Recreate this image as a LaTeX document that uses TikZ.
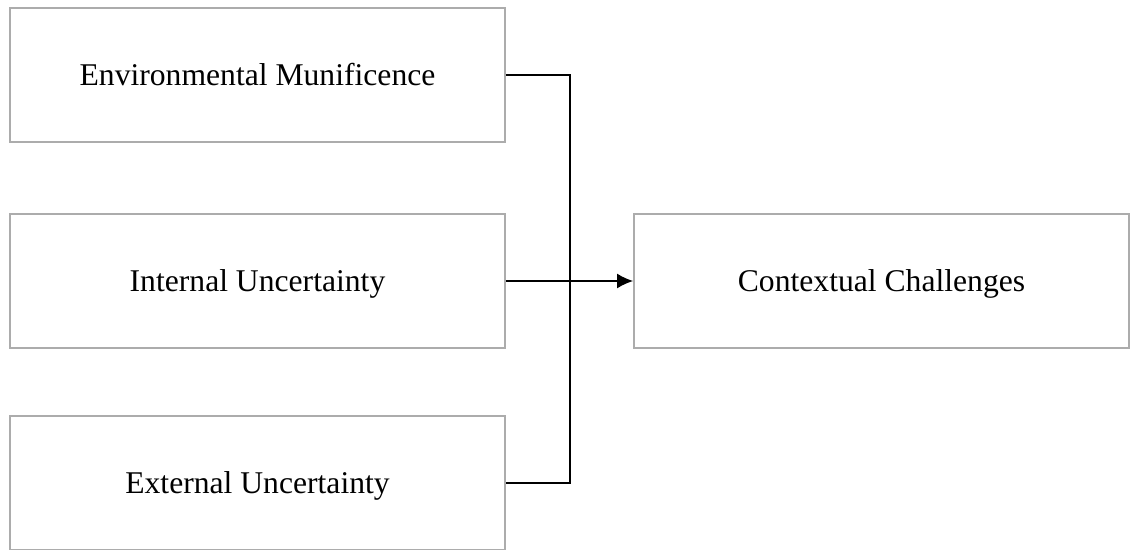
\documentclass[tikz,border=0pt]{standalone}
\usepackage{fontspec}
\setmainfont{Liberation Serif}
\usetikzlibrary{arrows.meta}
\tikzset{
  factor/.style={draw=gray!65, line width=1.1pt, minimum width=9.9cm, minimum height=2.68cm, font=\fontsize{18}{21}\selectfont},
  low/.style={text depth=0pt},
}
\begin{document}
\begin{tikzpicture}[>={Latex[length=3.2mm,width=3mm]}, line width=0.8pt]
    \useasboundingbox (0,0) rectangle (22.62,-11);
    \node[factor] (munif) at (5.15,-1.5){Environmental Munificence};
    \node[factor,low] (intern) at (5.15,-5.62){Internal Uncertainty};
    \node[factor,low] (extern) at (5.15,-9.66){External Uncertainty};
    \node[factor,low] (context) at (17.63,-5.62){Contextual Challenges};
    \coordinate (bus) at (11.4,0);
    \draw (munif.east) -| (bus |- extern.east) -- (extern.east);
    \draw[->] (intern.east) -- (context.west);
\end{tikzpicture}
\end{document}
